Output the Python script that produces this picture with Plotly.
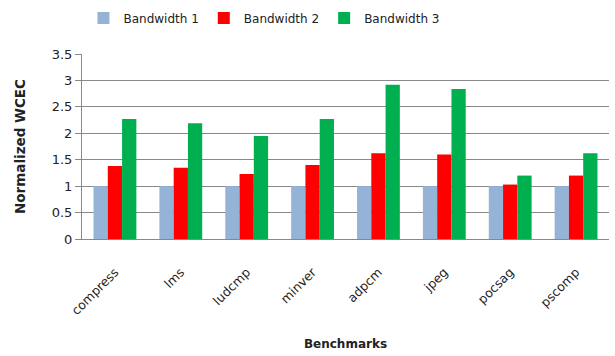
import plotly.graph_objects as go

categories = ["compress", "lms", "ludcmp", "minver", "adpcm", "jpeg", "pocsag", "pscomp"]
bw1 = [1.0, 1.0, 1.0, 1.0, 1.0, 1.0, 1.0, 1.0]
bw2 = [1.38, 1.35, 1.23, 1.40, 1.62, 1.60, 1.03, 1.20]
bw3 = [2.27, 2.19, 1.95, 2.27, 2.92, 2.84, 1.20, 1.62]
series_names = ["Bandwidth 1", "Bandwidth 2", "Bandwidth 3"]
colors = ["#95B3D7", "#FF0000", "#00B050"]
yticks = [0, 0.5, 1, 1.5, 2, 2.5, 3, 3.5]
ytick_text = ["0", "0.5", "1", "1.5", "2", "2.5", "3", "3.5"]

font = "DejaVu Sans"
fig = go.Figure()
for name, vals, c in zip(series_names, [bw1, bw2, bw3], colors):
    fig.add_trace(go.Bar(x=categories, y=vals, name=name, marker_color=c,
                         marker_line_width=0))

fig.update_layout(
    width=615, height=356,
    margin=dict(l=82, r=6, t=54, b=117),
    paper_bgcolor="white", plot_bgcolor="white",
    barmode="group", bargap=0.35, bargroupgap=0,
    font=dict(family=font, size=12, color="#222"),
    legend=dict(orientation="h", x=0.43, xanchor="center", xref="container",
                y=0.99, yanchor="top", yref="container",
                font=dict(size=12, color="#222"),
                itemwidth=30, tracegroupgap=0),
    xaxis=dict(tickangle=-45, showline=True, linecolor="#888", linewidth=1,
               ticks="", tickfont=dict(size=12.5), ticklabelstandoff=20,
               title=dict(text="<b>Benchmarks</b>", font=dict(size=12), standoff=22)),
    yaxis=dict(range=[0, 3.5], tickvals=yticks, ticktext=ytick_text,
               showgrid=True, gridcolor="#888", gridwidth=1,
               showline=True, linecolor="#888", linewidth=1,
               ticks="outside", ticklen=6, tickcolor="#888",
               tickfont=dict(size=13),
               title=dict(text="<b>Normalized WCEC</b>", font=dict(size=13.5), standoff=22)),
)
fig.write_html("out.html")
